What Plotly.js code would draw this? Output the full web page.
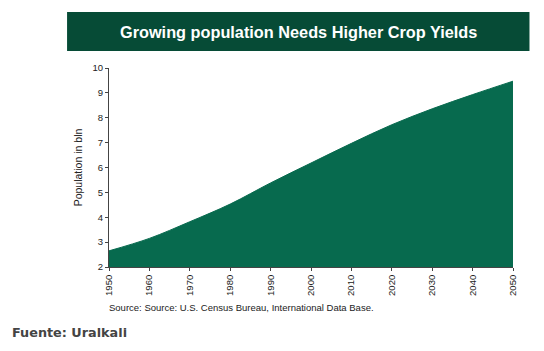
<!DOCTYPE html>
<html>
<head>
<meta charset="utf-8">
<script src="https://cdn.plot.ly/plotly-3.0.1.min.js"></script>
<style>html,body{margin:0;padding:0;background:#fff;}#chart{width:544px;height:351px;}</style>
</head>
<body>
<div id="chart"></div>
<script>
const years = [1950, 1960, 1970, 1980, 1990, 2000, 2010, 2020, 2030, 2040, 2050];
const population = [2.65, 3.15, 3.82, 4.53, 5.38, 6.18, 6.97, 7.72, 8.36, 8.93, 9.47];
const yTicks = [2, 3, 4, 5, 6, 7, 8, 9, 10];
const titleText = "Growing population Needs Higher Crop Yields";
const yTitle = "Population in bln";
const sourceText = "Source: Source: U.S. Census Bureau, International Data Base.";
const footerText = "Fuente: Uralkali";

const trace = {
  x: years, y: population, type: 'scatter', mode: 'lines',
  fill: 'tozeroy', fillcolor: '#076a4e',
  line: {color: '#076a4e', width: 1, shape: 'spline', smoothing: 1},
  hoverinfo: 'skip'
};

const layout = {
  width: 544, height: 351,
  margin: {l: 109, r: 30.5, t: 68, b: 84.3, pad: 0},
  paper_bgcolor: '#fff', plot_bgcolor: '#fff',
  showlegend: false,
  font: {family: 'Liberation Sans, Arial, sans-serif', color: '#222', size: 9},
  xaxis: {
    range: [1950, 2050], tickvals: years, ticktext: years.map(String),
    tickangle: -90, ticks: 'outside', ticklen: 3, tickcolor: '#444',
    showline: true, linecolor: '#444', linewidth: 1, showgrid: false, zeroline: false,
    tickfont: {size: 9.5, color: '#222'}
  },
  yaxis: {
    range: [2, 10], tickvals: yTicks, ticks: 'outside', ticklen: 3, tickcolor: '#444',
    showline: true, linecolor: '#444', linewidth: 1, showgrid: false, zeroline: false,
    tickfont: {size: 9.5, color: '#222'},
    title: {text: yTitle, font: {size: 10.5, color: '#222'}, standoff: 7}
  },
  shapes: [{
    type: 'rect', xref: 'paper', yref: 'paper',
    x0: -0.1038, x1: 1.0408, y0: 1.0856, y1: 1.2818,
    fillcolor: '#064b36', line: {width: 0}, layer: 'above'
  }],
  annotations: [
    {text: '<b>' + titleText + '</b>', xref: 'paper', yref: 'paper', x: 0.469, y: 1.181,
     xanchor: 'center', yanchor: 'middle', showarrow: false,
     font: {family: 'Liberation Sans, Arial, sans-serif', size: 16.3, color: '#ffffff'}},
    {text: sourceText, xref: 'paper', yref: 'paper', x: -0.004, y: -0.203,
     xanchor: 'left', yanchor: 'middle', showarrow: false,
     font: {family: 'Liberation Sans, Arial, sans-serif', size: 9.5, color: '#222'}},
    {text: '<b>' + footerText + '</b>', xref: 'paper', yref: 'paper', x: -0.245, y: -0.329,
     xanchor: 'left', yanchor: 'middle', showarrow: false,
     font: {family: 'DejaVu Sans, Verdana, sans-serif', size: 12.8, color: '#444'}}
  ]
};

Plotly.newPlot('chart', [trace], layout, {displayModeBar: false, staticPlot: true});
</script>
</body>
</html>
